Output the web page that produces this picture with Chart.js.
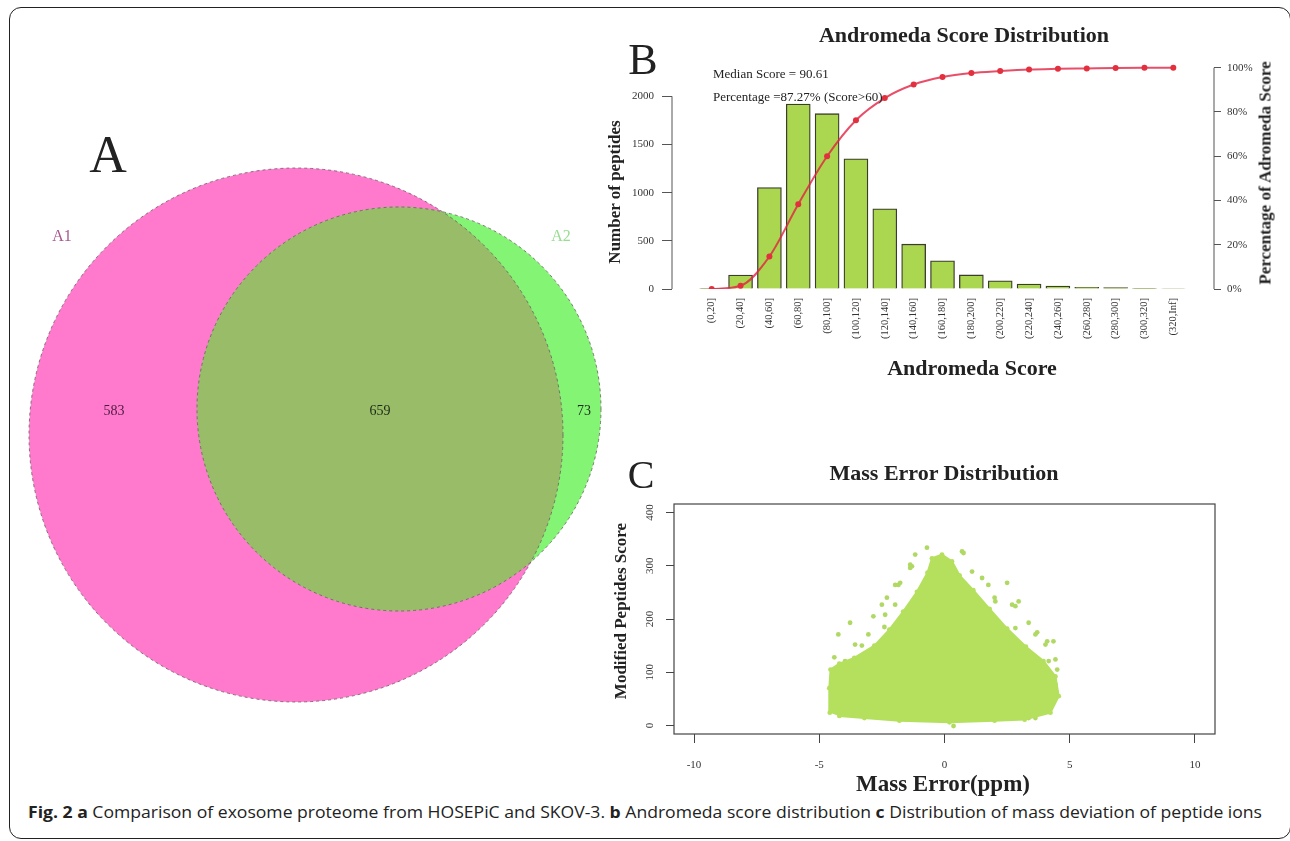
<!DOCTYPE html>
<html>
<head>
<meta charset="utf-8">
<script src="https://cdn.jsdelivr.net/npm/chart.js@4.4.1/dist/chart.umd.min.js"></script>
<style>
  body { margin: 0; background: #fff; width: 1290px; height: 841px; position: relative; overflow: hidden;
         font-family: 'Liberation Serif', 'Times New Roman', serif; color: #222; }
  .frame { position: absolute; left: 9px; top: 7px; width: 1282px; height: 832px; border: 1.6px solid #222;
           border-radius: 12px; box-sizing: border-box; }
  canvas { position: absolute; }
  .t { position: absolute; white-space: nowrap; transform: translate(-50%, -50%); line-height: 1; }
  .l { position: absolute; white-space: nowrap; transform: translateY(-50%); line-height: 1; }
  .rot { transform: translate(-50%, -50%) rotate(-90deg); }
  .bold { font-weight: bold; }
  #caption { position: absolute; left: 28px; top: 812px; transform-origin: 0 50%; white-space: nowrap;
             font-family: 'Open Sans', 'Noto Sans', sans-serif; font-size: 16px; color: #222; line-height: 1; margin-top: -8px; }
</style>
</head>
<body>
<div class="frame"></div>

<canvas id="chartVenn" width="600" height="580" style="left:20px;top:150px"></canvas>
<canvas id="chartScore" width="690" height="380" style="left:600px;top:20px"></canvas>
<canvas id="chartMass" width="690" height="340" style="left:600px;top:450px"></canvas>

<div class="t" style="left:108px;top:155px;font-size:52px">A</div>
<div class="t" style="left:643px;top:60px;font-size:44px">B</div>
<div class="t" style="left:641px;top:475px;font-size:40px">C</div>

<div class="t bold" style="left:964px;top:35px;font-size:22px">Andromeda Score Distribution</div>
<div class="l" style="left:713px;top:73px;font-size:13px">Median Score = 90.61</div>
<div class="l" style="left:713px;top:96px;font-size:13px">Percentage =87.27% (Score&gt;60)</div>
<div class="t bold" style="left:972px;top:368px;font-size:22px">Andromeda Score</div>
<div class="t bold rot" style="left:614px;top:192px;font-size:17px">Number of peptides</div>
<div class="t bold rot" style="left:1265px;top:173px;font-size:17px">Percentage of Adromeda Score</div>

<div class="t bold" style="left:944px;top:473px;font-size:22px">Mass Error Distribution</div>
<div class="t bold" style="left:943px;top:783px;font-size:23px">Mass Error(ppm)</div>
<div class="t bold rot" style="left:620px;top:611px;font-size:17px">Modified Peptides Score</div>

<div id="caption"><b>Fig. 2 a</b> Comparison of exosome proteome from HOSEPiC and SKOV-3. <b>b</b> Andromeda score distribution <b>c</b> Distribution of mass deviation of peptide ions</div>

<script>
// ---- panel A: venn counts
const vennSets = ['A1', 'A2'];
const vennCounts = [583, 659, 73]; // A1 only, both, A2 only

// ---- panel B: andromeda score histogram
const scoreBins = ['(0,20]', '(20,40]', '(40,60]', '(60,80]', '(80,100]', '(100,120]', '(120,140]', '(140,160]',
  '(160,180]', '(180,200]', '(200,220]', '(220,240]', '(240,260]', '(260,280]', '(280,300]', '(300,320]', '(320,Inf]'];
const peptideCounts = [3, 145, 1052, 1920, 1820, 1351, 833, 465, 292, 146, 86, 52, 30, 18, 14, 8, 5];
const cumulativePct = [0, 1.5, 14.7, 38.3, 60, 76.3, 86.3, 92.4, 95.8, 97.6, 98.5, 99.2, 99.5, 99.7, 99.9, 100, 100];
const countTicks = [0, 500, 1000, 1500, 2000];
const pctTicks = [0, 20, 40, 60, 80, 100];

// ---- panel C: mass error scatter (dense core outline + loose points around it)
const cloudOutline = [[-4.58, 24], [-4.6, 70], [-4.55, 105], [-4.2, 116], [-3.6, 127], [-2.8, 150], [-2.2, 180],
  [-1.65, 214], [-1.1, 251], [-0.68, 287], [-0.5, 314], [-0.1, 321], [0.3, 308], [0.6, 282], [1.15, 254],
  [1.8, 219], [2.5, 182], [3.25, 148], [3.95, 121], [4.43, 92], [4.56, 55], [4.23, 24], [3.2, 11], [2.0, 9],
  [0.2, 6], [-1.8, 9], [-3.2, 14], [-4.2, 18]];
const cloudOutliers = [[-0.7, 334], [0.76, 324], [0.7, 327], [-1.37, 302], [-1.3, 299], [-1.77, 268], [-1.97, 264],
  [2.5, 268], [1.75, 264], [1.5, 277], [2.96, 233], [2.83, 224], [3.36, 193], [4.1, 158], [4.35, 158], [4.03, 152],
  [4.43, 124], [-3.77, 193], [-4.24, 171], [-3.04, 171], [-2.84, 205], [-2.5, 227], [3.63, 14], [0.36, -1],
  [-4.1, 27], [-2.3, 240], [-3.3, 150], [-2.4, 185], [2.0, 240], [3.7, 175], [-4.4, 128], [4.5, 105],
  [-3.57, 152], [-2.37, 208], [-1.97, 227], [-1.84, 264], [-1.37, 296], [-1.17, 321], [1.1, 289], [2.03, 233],
  [2.7, 227], [2.83, 183], [3.63, 171], [4.16, 121], [4.43, 77], [4.3, 46], [4.03, 33], [3.36, 14], [2.56, 17],
  [-3.84, 33], [-4.24, 58], [-4.37, 89], [-3.97, 121]];
const massTicks = [-10, -5, 0, 5, 10];
const modScoreTicks = [0, 100, 200, 300, 400];

const serif = "'Liberation Serif', 'Times New Roman', serif";
const tickFont = { family: serif, size: 11 };

// venn layout, in page pixels (the venn chart's axes are page pixels)
const vennLayout = {
  circles: [{ cx: 296, cy: 435, r: 267 }, { cx: 399, cy: 409, r: 202 }],
  setLabels: [{ x: 62, y: 237, color: '#a8588f' }, { x: 561, y: 237, color: '#96de90' }],
  countLabels: [{ x: 114, y: 411, color: '#4a1c42' }, { x: 380, y: 411, color: '#1e2a14' }, { x: 584, y: 411, color: '#1e2e1a' }]
};

const vennPlugin = {
  id: 'venn',
  afterDatasetsDraw(chart) {
    const { ctx, scales: { x, y } } = chart;
    const circle = c => {
      ctx.beginPath();
      ctx.arc(x.getPixelForValue(c.cx), y.getPixelForValue(c.cy), x.getPixelForValue(c.cx + c.r) - x.getPixelForValue(c.cx), 0, Math.PI * 2);
    };
    const [c1, c2] = vennLayout.circles;
    ctx.save();
    circle(c1); ctx.fillStyle = '#ff79cc'; ctx.fill();
    circle(c2); ctx.fillStyle = '#83f474'; ctx.fill();
    ctx.save();
    circle(c1); ctx.clip();
    circle(c2); ctx.fillStyle = '#98bc68'; ctx.fill();
    ctx.restore();
    ctx.setLineDash([3, 3]);
    ctx.lineWidth = 0.8;
    ctx.strokeStyle = '#6a5a60';
    circle(c1); ctx.stroke();
    circle(c2); ctx.stroke();
    ctx.setLineDash([]);
    ctx.textAlign = 'center';
    ctx.textBaseline = 'middle';
    ctx.font = '16px ' + serif;
    vennSets.forEach((s, i) => {
      const p = vennLayout.setLabels[i];
      ctx.fillStyle = p.color;
      ctx.fillText(s, x.getPixelForValue(p.x), y.getPixelForValue(p.y));
    });
    ctx.font = '14px ' + serif;
    vennCounts.forEach((n, i) => {
      const p = vennLayout.countLabels[i];
      ctx.fillStyle = p.color;
      ctx.fillText(String(n), x.getPixelForValue(p.x), y.getPixelForValue(p.y));
    });
    ctx.restore();
  }
};

new Chart(document.getElementById('chartVenn'), {
  type: 'scatter',
  data: { datasets: [] },
  options: {
    responsive: false, animation: false,
    layout: { padding: 0 },
    plugins: { legend: { display: false }, tooltip: { enabled: false } },
    scales: {
      x: { type: 'linear', min: 20, max: 620, display: false },
      y: { type: 'linear', min: 150, max: 730, reverse: true, display: false }
    }
  },
  plugins: [vennPlugin]
});

// R-style axis lines that only run between first and last tick
const axisLines = {
  id: 'axisLines',
  afterDraw(chart, args, opts) {
    const { ctx, chartArea } = chart;
    ctx.save();
    ctx.strokeStyle = '#555';
    ctx.lineWidth = 1;
    (opts.lines || []).forEach(l => {
      const s = chart.scales[l.id];
      const xPos = s.position === 'left' ? chartArea.left : chartArea.right;
      ctx.beginPath();
      ctx.moveTo(xPos, s.getPixelForValue(l.from));
      ctx.lineTo(xPos, s.getPixelForValue(l.to));
      ctx.stroke();
    });
    if (opts.box) {
      ctx.strokeStyle = '#444';
      ctx.lineWidth = 1.2;
      ctx.strokeRect(chartArea.left, chartArea.top, chartArea.right - chartArea.left, chartArea.bottom - chartArea.top);
    }
    ctx.restore();
  }
};

new Chart(document.getElementById('chartScore'), {
  type: 'bar',
  data: {
    datasets: [{
      type: 'line',
      data: cumulativePct.map((v, i) => ({ x: i, y: v })),
      yAxisID: 'y1',
      borderColor: 'rgba(226, 34, 66, 0.8)',
      borderWidth: 2,
      pointRadius: 3,
      pointBackgroundColor: '#e2303e',
      pointBorderWidth: 0,
      cubicInterpolationMode: 'monotone',
      order: 0
    }, {
      type: 'bar',
      data: peptideCounts.map((v, i) => ({ x: i, y: v })),
      yAxisID: 'y',
      backgroundColor: '#aad650',
      borderColor: '#3c3c2c',
      borderWidth: 1.3,
      barThickness: 24,
      order: 1
    }]
  },
  options: {
    responsive: false, animation: false,
    layout: { padding: { top: 40 } },
    plugins: {
      legend: { display: false }, tooltip: { enabled: false },
      axisLines: { lines: [{ id: 'y', from: 0, to: 2000 }, { id: 'y1', from: 0, to: 100 }] }
    },
    scales: {
      x: {
        type: 'linear', min: -1.376, max: 17.41, offset: false,
        grid: { display: false, drawTicks: false }, border: { display: false },
        afterBuildTicks: s => { s.ticks = scoreBins.map((_, i) => ({ value: i })); },
        ticks: { callback: v => scoreBins[v], minRotation: 90, maxRotation: 90, autoSkip: false, padding: 9,
                 font: { family: serif, size: 10.5 }, color: '#333' },
        afterFit: s => { s.height = 111; }
      },
      y: {
        position: 'left', min: 0, max: 2377,
        grid: { drawOnChartArea: false, tickLength: 10, color: '#555' }, border: { display: false },
        afterBuildTicks: s => { s.ticks = countTicks.map(v => ({ value: v })); },
        ticks: { padding: 8, font: tickFont, color: '#333', callback: v => String(v) },
        afterFit: s => { s.width = 72; }
      },
      y1: {
        position: 'right', min: 0, max: 103.5,
        grid: { drawOnChartArea: false, tickLength: 7, color: '#555' }, border: { display: false },
        afterBuildTicks: s => { s.ticks = pctTicks.map(v => ({ value: v })); },
        ticks: { padding: 6, font: tickFont, color: '#333', callback: v => v + '%' },
        afterFit: s => { s.width = 76; }
      }
    }
  },
  plugins: [axisLines]
});

new Chart(document.getElementById('chartMass'), {
  type: 'scatter',
  data: {
    datasets: [{
      data: cloudOutline.map(([x, y]) => ({ x, y })),
      showLine: true,
      fill: 'shape',
      backgroundColor: '#b4e05e',
      borderColor: '#b4e05e',
      borderWidth: 2,
      pointRadius: 2.4,
      pointBackgroundColor: '#b4e05e',
      pointBorderWidth: 0
    }, {
      data: cloudOutliers.map(([x, y]) => ({ x, y })),
      pointRadius: 2.4,
      pointBackgroundColor: '#b0d964',
      pointBorderWidth: 0
    }]
  },
  options: {
    responsive: false, animation: false,
    layout: { padding: { top: 54, right: 75 } },
    plugins: { legend: { display: false }, tooltip: { enabled: false }, axisLines: { box: true } },
    scales: {
      x: {
        type: 'linear', min: -10.8, max: 10.8,
        grid: { drawOnChartArea: false, tickLength: 9, color: '#444' }, border: { display: false },
        afterBuildTicks: s => { s.ticks = massTicks.map(v => ({ value: v })); },
        ticks: { padding: 16, font: tickFont, color: '#333', callback: v => String(v) },
        afterFit: s => { s.height = 56; }
      },
      y: {
        type: 'linear', min: -16, max: 416,
        grid: { drawOnChartArea: false, tickLength: 8, color: '#444' }, border: { display: false },
        afterBuildTicks: s => { s.ticks = modScoreTicks.map(v => ({ value: v })); },
        ticks: { padding: 8, minRotation: 90, maxRotation: 90, crossAlign: 'center', font: tickFont, color: '#333',
                 callback: v => String(v) },
        afterFit: s => { s.width = 74; }
      }
    }
  },
  plugins: [axisLines]
});

// stretch caption to the original line length
const cap = document.getElementById('caption');
cap.style.transform = 'scaleX(' + (1234 / cap.getBoundingClientRect().width) + ')';
</script>
</body>
</html>
